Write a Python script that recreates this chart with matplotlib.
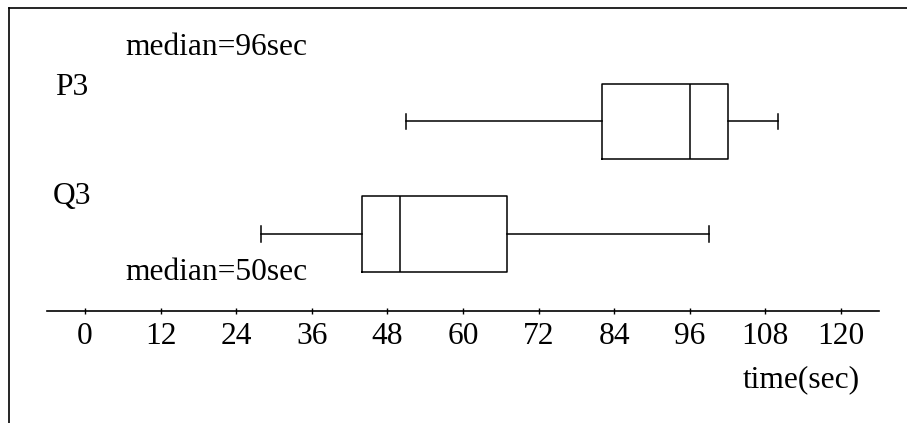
import matplotlib
matplotlib.use("Agg")
import matplotlib.pyplot as plt
from matplotlib.lines import Line2D

# ---- data ----
labels = ["Q3", "P3"]
whisker_low = [28, 51]
q1 = [44, 82]
medians = [50, 96]
q3 = [67, 102]
whisker_high = [99, 110]
xticks = [0, 12, 24, 36, 48, 60, 72, 84, 96, 108, 120]
median_texts = ["median=50sec", "median=96sec"]

W, H = 907, 423
FS = 22.7
FONT = "Liberation Serif"
plt.rcParams['font.family'] = [FONT, 'DejaVu Serif']

fig = plt.figure(figsize=(W / 100, H / 100), dpi=100)

def fx(px):
    return px / W

def fy(py):
    return (H - py) / H

# axes: bottom spine at pixel y=310.7, x range from px 47 to 879
ax_left, ax_right = 47, 879
ax_top, ax_bottom = 8, 310.7
ax = fig.add_axes([fx(ax_left), fy(ax_bottom), fx(ax_right) - fx(ax_left), fy(ax_top) - fy(ax_bottom)])
ax.patch.set_visible(False)

stats = []
for i in range(len(labels)):
    stats.append(dict(label=labels[i], whislo=whisker_low[i], q1=q1[i], med=medians[i],
                      q3=q3[i], whishi=whisker_high[i], fliers=[]))

lw = 1.1
ax.bxp(stats, positions=[0, 1], vert=False, widths=0.667, showfliers=False,
       boxprops=dict(color="black", linewidth=lw),
       medianprops=dict(color="black", linewidth=lw),
       whiskerprops=dict(color="black", linewidth=lw),
       capprops=dict(color="black", linewidth=lw),
       capwidths=0.142, manage_ticks=False)

px_per_unit = 6.3
ax.set_xlim((ax_left - 85) / px_per_unit, (ax_right - 85) / px_per_unit)
unit_px = 112.5
ax.set_ylim(-(ax_bottom - 234) / unit_px, (234 - ax_top) / unit_px)

for s in ["top", "right", "left"]:
    ax.spines[s].set_visible(False)
ax.spines["bottom"].set_linewidth(1.2)
ax.set_yticks([])
ax.set_xticks(xticks)
ax.set_xticklabels([str(t) for t in xticks], fontsize=FS, fontfamily=FONT)
ax.tick_params(axis="x", direction="inout", length=5, width=1.0, pad=5.5)

# frame lines (top and left)
fig.add_artist(Line2D([fx(9), fx(907)], [fy(8), fy(8)], color="black", linewidth=1.2))
fig.add_artist(Line2D([fx(9), fx(9)], [fy(8), fy(423)], color="black", linewidth=1.2))

# texts
fig.text(fx(125), fy(55), median_texts[1], fontsize=FS, ha="left", va="baseline")
fig.text(fx(55), fy(95), labels[1], fontsize=FS, ha="left", va="baseline")
fig.text(fx(53), fy(204), labels[0], fontsize=FS, ha="left", va="baseline")
fig.text(fx(125), fy(280), median_texts[0], fontsize=FS, ha="left", va="baseline")
fig.text(fx(860), fy(387), "time(sec)", fontsize=FS, ha="right", va="baseline")

fig.savefig("out.png", dpi=100)
